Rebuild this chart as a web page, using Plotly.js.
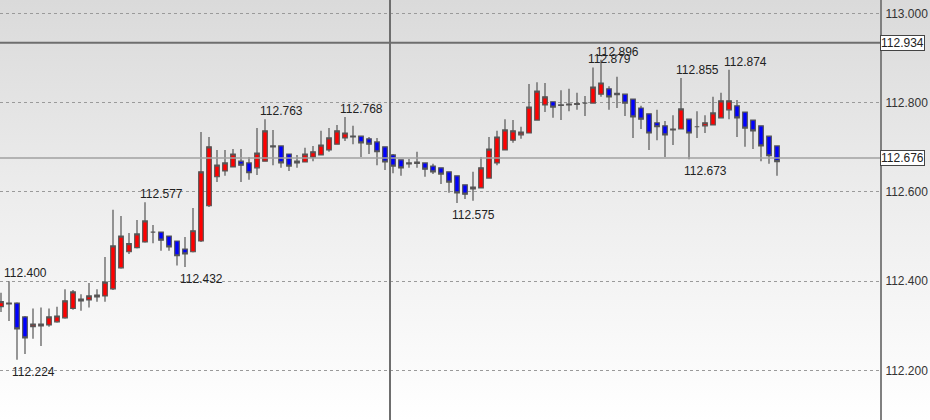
<!DOCTYPE html>
<html>
<head>
<meta charset="utf-8">
<script src="https://cdn.plot.ly/plotly-3.0.1.min.js"></script>
<style>
  html, body { margin: 0; padding: 0; }
  #chart { width: 930px; height: 420px; background: linear-gradient(to bottom, #dadada 0%, #ececec 45%, #ffffff 100%); }
</style>
</head>
<body>
<div id="chart"></div>
<script>
// bar index (one bar per 8 px)
const barIndex = [];
for (let i = 0; i < 98; i++) barIndex.push(i);

const openPrices = [
  112.343, 112.349, 112.351, 112.320, 112.298, 112.300, 112.302, 112.309, 112.318, 112.339,
  112.356, 112.358, 112.365, 112.367, 112.383, 112.430, 112.466, 112.475, 112.488, 112.510,
  112.510, 112.501, 112.490, 112.472, 112.466, 112.490, 112.569, 112.634, 112.647, 112.656,
  112.669, 112.665, 112.654, 112.669, 112.703, 112.703, 112.685, 112.669, 112.667, 112.678,
  112.683, 112.694, 112.707, 112.721, 112.725, 112.725, 112.719, 112.712, 112.701, 112.683,
  112.672, 112.663, 112.664, 112.665, 112.658, 112.654, 112.645, 112.636, 112.616, 112.607,
  112.609, 112.631, 112.665, 112.694, 112.716, 112.728, 112.732, 112.761, 112.795, 112.802,
  112.795, 112.795, 112.796, 112.799, 112.799, 112.819, 112.831, 112.821, 112.819, 112.808,
  112.788, 112.775, 112.755, 112.748, 112.739, 112.741, 112.763, 112.746, 112.748, 112.750,
  112.766, 112.784, 112.793, 112.779, 112.761, 112.748, 112.725, 112.703
];
const highPrices = [
  112.374, 112.400, 112.353, 112.322, 112.339, 112.341, 112.339, 112.343, 112.382, 112.380,
  112.371, 112.396, 112.382, 112.454, 112.560, 112.546, 112.508, 112.537, 112.577, 112.526,
  112.511, 112.502, 112.491, 112.499, 112.564, 112.734, 112.723, 112.694, 112.694, 112.696,
  112.696, 112.678, 112.743, 112.763, 112.739, 112.704, 112.686, 112.683, 112.699, 112.703,
  112.737, 112.743, 112.750, 112.768, 112.748, 112.726, 112.723, 112.721, 112.702, 112.685,
  112.673, 112.674, 112.690, 112.666, 112.663, 112.655, 112.646, 112.637, 112.617, 112.645,
  112.678, 112.723, 112.737, 112.763, 112.761, 112.746, 112.842, 112.846, 112.844, 112.803,
  112.828, 112.831, 112.822, 112.815, 112.879, 112.896, 112.837, 112.858, 112.820, 112.809,
  112.793, 112.776, 112.784, 112.759, 112.772, 112.855, 112.764, 112.781, 112.772, 112.813,
  112.822, 112.874, 112.806, 112.780, 112.762, 112.749, 112.726, 112.704
];
const lowPrices = [
  112.331, 112.311, 112.224, 112.237, 112.271, 112.255, 112.298, 112.307, 112.316, 112.336,
  112.334, 112.341, 112.354, 112.354, 112.380, 112.428, 112.461, 112.473, 112.486, 112.485,
  112.468, 112.468, 112.435, 112.432, 112.464, 112.488, 112.566, 112.622, 112.636, 112.655,
  112.622, 112.627, 112.638, 112.668, 112.660, 112.654, 112.647, 112.654, 112.666, 112.669,
  112.682, 112.690, 112.706, 112.714, 112.707, 112.678, 112.685, 112.660, 112.649, 112.642,
  112.636, 112.654, 112.654, 112.634, 112.640, 112.618, 112.598, 112.575, 112.584, 112.580,
  112.608, 112.630, 112.660, 112.693, 112.710, 112.719, 112.731, 112.760, 112.779, 112.766,
  112.761, 112.781, 112.784, 112.770, 112.798, 112.813, 112.784, 112.788, 112.770, 112.721,
  112.741, 112.694, 112.716, 112.678, 112.705, 112.740, 112.673, 112.721, 112.732, 112.749,
  112.765, 112.763, 112.723, 112.701, 112.696, 112.669, 112.663, 112.636
];
const closePrices = [
  112.354, 112.351, 112.293, 112.273, 112.304, 112.304, 112.320, 112.322, 112.356, 112.376,
  112.360, 112.367, 112.369, 112.398, 112.479, 112.501, 112.484, 112.506, 112.535, 112.510,
  112.492, 112.477, 112.457, 112.461, 112.513, 112.645, 112.701, 112.660, 112.665, 112.685,
  112.660, 112.643, 112.687, 112.737, 112.701, 112.665, 112.658, 112.665, 112.685, 112.690,
  112.705, 112.721, 112.737, 112.732, 112.723, 112.710, 112.707, 112.690, 112.667, 112.658,
  112.654, 112.665, 112.667, 112.651, 112.645, 112.640, 112.622, 112.598, 112.595, 112.611,
  112.654, 112.696, 112.723, 112.739, 112.737, 112.734, 112.790, 112.826, 112.813, 112.790,
  112.794, 112.797, 112.798, 112.799, 112.835, 112.844, 112.813, 112.818, 112.799, 112.768,
  112.763, 112.732, 112.746, 112.728, 112.741, 112.786, 112.732, 112.746, 112.755, 112.777,
  112.804, 112.804, 112.766, 112.743, 112.737, 112.703, 112.681, 112.668
];

// marked highs / lows (bar index, price, kind)
const markBars   = [1, 2, 18, 23, 33, 43, 57, 74, 75, 85, 86, 91];
const markPrices = [112.400, 112.224, 112.577, 112.432, 112.763, 112.768, 112.575, 112.879, 112.896, 112.855, 112.673, 112.874];
const markKinds  = ['high', 'low', 'high', 'low', 'high', 'high', 'low', 'high', 'high', 'high', 'low', 'high'];

const yTicks = [112.2, 112.4, 112.6, 112.8, 113.0];
const levelHigh = 112.934;
const levelLast = 112.676;
const separatorBar = 48.625;

const FONT = 'Liberation Sans, Arial, sans-serif';

const trace = {
  type: 'candlestick',
  x: barIndex,
  open: openPrices, high: highPrices, low: lowPrices, close: closePrices,
  increasing: { fillcolor: '#ff0000', line: { color: '#555555', width: 1.2 } },
  decreasing: { fillcolor: '#0000ff', line: { color: '#555555', width: 1.2 } },
  whiskerwidth: 0,
  hoverinfo: 'skip',
  showlegend: false
};

const annotations = markBars.map((b, i) => ({
  x: b, y: markPrices[i], xref: 'x', yref: 'y',
  text: markPrices[i].toFixed(3),
  showarrow: false, xanchor: 'left', yanchor: 'middle',
  xshift: -7, yshift: markKinds[i] === 'high' ? 8 : -12,
  font: { family: FONT, size: 12, color: '#222' }
}));
[levelHigh, levelLast].forEach(v => annotations.push({
  x: 1, y: v, xref: 'paper', yref: 'y', text: v.toFixed(3),
  showarrow: false, xanchor: 'left', yanchor: 'middle', xshift: 0,
  bgcolor: '#ffffff', bordercolor: '#444', borderwidth: 1, borderpad: 0,
  font: { family: FONT, size: 12, color: '#222' }
}));

const layout = {
  width: 930, height: 420,
  margin: { l: 0, r: 50, t: 0, b: 0, pad: 0 },
  paper_bgcolor: 'rgba(0,0,0,0)',
  plot_bgcolor: 'rgba(0,0,0,0)',
  showlegend: false,
  hovermode: false,
  boxgap: 0.18,
  xaxis: {
    range: [-0.125, 109.875], visible: false, showgrid: false, zeroline: false,
    rangeslider: { visible: false }, fixedrange: true
  },
  yaxis: {
    side: 'right', range: [112.089, 113.030],
    tickvals: yTicks, tickformat: '.3f',
    showgrid: true, gridcolor: '#9a9a9a', griddash: 'dot', gridwidth: 1,
    showline: true, linecolor: '#808080', linewidth: 2,
    zeroline: false, ticks: '', ticklabelstandoff: 1,
    tickfont: { family: FONT, size: 12, color: '#333' },
    fixedrange: true
  },
  shapes: [
    { type: 'line', xref: 'paper', yref: 'y', x0: 0, x1: 1, y0: levelHigh, y1: levelHigh,
      line: { color: '#6e6e6e', width: 2 } },
    { type: 'line', xref: 'paper', yref: 'y', x0: 0, x1: 1, y0: levelLast, y1: levelLast,
      line: { color: '#a0a0a0', width: 1.5 } },
    { type: 'line', xref: 'x', yref: 'paper', x0: separatorBar, x1: separatorBar, y0: 0, y1: 1,
      line: { color: '#6e6e6e', width: 2 } }
  ],
  annotations: annotations
};

Plotly.newPlot('chart', [trace], layout, { displayModeBar: false, staticPlot: true });
</script>
</body>
</html>
